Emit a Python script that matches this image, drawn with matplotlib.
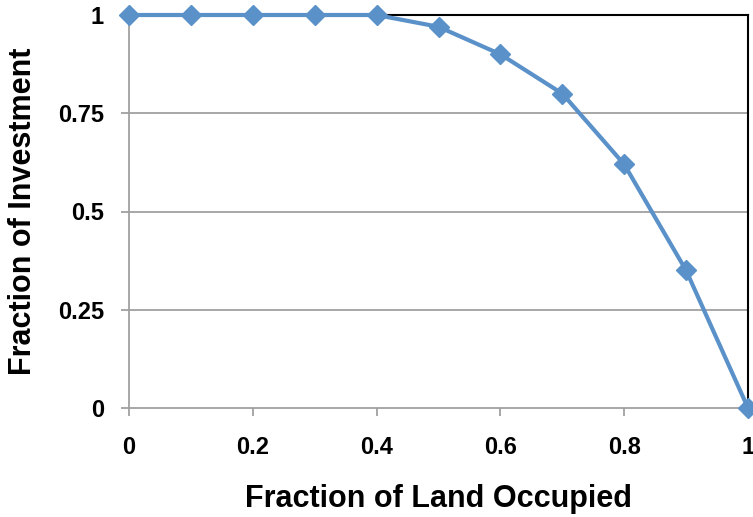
import matplotlib
matplotlib.use("Agg")
import matplotlib.pyplot as plt
from matplotlib import font_manager

land = [0, 0.1, 0.2, 0.3, 0.4, 0.5, 0.6, 0.7, 0.8, 0.9, 1.0]
investment = [1, 1, 1, 1, 1, 0.97, 0.90, 0.80, 0.62, 0.35, 0]
xticks = [0, 0.2, 0.4, 0.6, 0.8, 1]
xticklabels = ["0", "0.2", "0.4", "0.6", "0.8", "1"]
yticks = [0, 0.25, 0.5, 0.75, 1]
yticklabels = ["0", "0.25", "0.5", "0.75", "1"]

names = {f.name for f in font_manager.fontManager.ttflist}
fam = ["Liberation Sans Narrow"] if "Liberation Sans Narrow" in names else ["Liberation Sans"]
plt.rcParams['font.family'] = fam + ["DejaVu Sans"]

fig = plt.figure(figsize=(7.53, 5.17), dpi=100)
ax = fig.add_axes([129/753, 1-408/517, (748-129)/753, (408-15)/517])

gridc = "#A0A0A0"
for y in yticks[1:-1]:
    ax.axhline(y, color=gridc, lw=1.3, zorder=1)

ax.plot(land, investment, color="#5A91C9", lw=3, marker="D", markersize=10,
        clip_on=False, zorder=3)

ax.set_xlim(0, 1)
ax.set_ylim(0, 1)
ax.set_xticks(xticks)
ax.set_xticklabels(xticklabels, fontsize=17, fontweight="bold")
ax.set_yticks(yticks)
ax.set_yticklabels(yticklabels, fontsize=17, fontweight="bold")
ax.tick_params(axis="x", direction="out", length=6, width=1.3, color=gridc, pad=14)
ax.tick_params(axis="y", direction="out", length=6, width=1.3, color=gridc, pad=12)

for s in ["left", "bottom"]:
    ax.spines[s].set_color(gridc)
    ax.spines[s].set_linewidth(1.3)
for s in ["top", "right"]:
    ax.spines[s].set_color("black")
    ax.spines[s].set_linewidth(1.5)

ax.set_xlabel("Fraction of Land Occupied", fontsize=22, fontweight="bold", labelpad=18)
ax.set_ylabel("Fraction of Investment", fontsize=22, fontweight="bold", labelpad=14)

fig.savefig("out.png", dpi=100)
